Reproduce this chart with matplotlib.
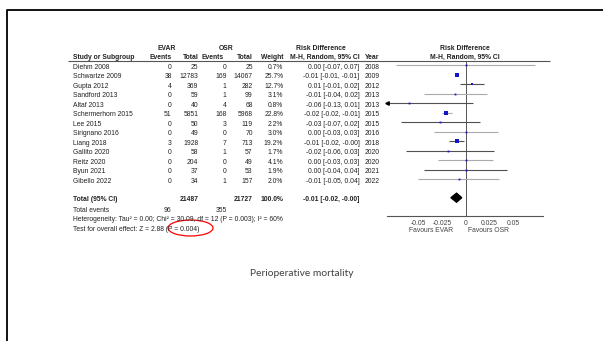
import matplotlib.pyplot as plt
from matplotlib.patches import Ellipse
import numpy as np

# Study level data: EVAR vs OSR perioperative mortality
studies = ["Diehm 2008", "Schwartze 2009", "Gupta 2012", "Sandford 2013", "Altaf 2013",
           "Schermerhorn 2015", "Lee 2015", "Sirignano 2016", "Liang 2018", "Gallito 2020",
           "Reitz 2020", "Byun 2021", "Gibello 2022"]
years = [2008, 2009, 2012, 2013, 2013, 2015, 2015, 2016, 2018, 2020, 2020, 2021, 2022]
evar_events = [0, 38, 4, 0, 0, 51, 0, 0, 3, 0, 0, 0, 0]
evar_total = [25, 12783, 369, 59, 40, 5851, 50, 49, 1928, 58, 204, 37, 34]
osr_events = [0, 169, 1, 1, 4, 168, 3, 0, 7, 1, 0, 0, 1]
osr_total = [25, 14067, 282, 99, 68, 5968, 119, 70, 713, 57, 49, 53, 157]
weights = [0.7, 25.7, 12.7, 3.1, 0.8, 22.8, 2.2, 3.0, 19.2, 1.7, 4.1, 1.9, 2.0]
rd = [0.0, -0.0095, 0.0067, -0.011, -0.060, -0.0206, -0.027, 0.0, -0.0093, -0.019, 0.0, 0.0, -0.0071]
ci_lo = [-0.074, -0.011, -0.006, -0.044, -0.131, -0.0249, -0.0685, -0.034, -0.018, -0.064, -0.029, -0.044, -0.051]
ci_hi = [0.074, -0.008, 0.0195, 0.023, 0.008, -0.0146, 0.0154, 0.034, -0.0022, 0.030, 0.029, 0.044, 0.0355]
# light grey or dark whiskers per study
whisker_dark = [False, False, True, False, True, False, True, False, True, True, False, True, False]

# Pooled estimate
total_weight = 100.0
total_rd = -0.0098
total_lo = -0.0158
total_hi = -0.0043
heterogeneity = "Heterogeneity: Tau\u00b2 = 0.00; Chi\u00b2 = 30.09, df = 12 (P = 0.003); I\u00b2 = 60%"
overall_effect = "Test for overall effect: Z = 2.88 (P = 0.004)"
x_ticks = [-0.05, -0.025, 0, 0.025, 0.05]
x_tick_labels = ["-0.05", "-0.025", "0", "0.025", "0.05"]

W, H = 603, 341
plt.rcParams['font.family'] = ['Liberation Sans', 'DejaVu Sans']
fig = plt.figure(figsize=(W / 100, H / 100), dpi=100)

# Full figure axes in pixel units for the table
ax = fig.add_axes([0, 0, 1, 1])
ax.set_xlim(0, W)
ax.set_ylim(H, 0)
ax.axis("off")

# slide border (top and left edges)
ax.plot([7, 7, W], [H, 10, 10], color="black", lw=1.3, solid_capstyle="butt")

fs = 4.9
txt = "#222222"
row0, step = 65, 9.5
rows = [row0 + step * i for i in range(len(studies))]
base = 3.6  # baseline offset from row centre


def put(x, y, s, ha="left", bold=False, color=txt):
    ax.text(x, y + base, s, ha=ha, va="baseline", fontsize=fs,
            weight="bold" if bold else "normal", color=color)


# Column headers
hdr1, hdr2 = 45.9, 55.7
put(167, hdr1, "EVAR", "center", True)
put(226, hdr1, "OSR", "center", True)
put(321, hdr1, "Risk Difference", "center", True)
put(465, hdr1, "Risk Difference", "center", True)
put(72.7, hdr2, "Study or Subgroup", "left", True)
put(171.7, hdr2, "Events", "right", True)
put(198.3, hdr2, "Total", "right", True)
put(224, hdr2, "Events", "right", True)
put(252.7, hdr2, "Total", "right", True)
put(283.3, hdr2, "Weight", "right", True)
put(359.5, hdr2, "M-H, Random, 95% CI", "right", True)
put(364.7, hdr2, "Year", "left", True)
put(465, hdr2, "M-H, Random, 95% CI", "center", True)
ax.hlines(61, 68, 550, color="#555555", lw=0.8)


def fmt_ci(est, lo, hi):
    return f"{est:.2f} [{lo:.2f}, {hi:.2f}]"


# Study rows
for i, y in enumerate(rows):
    put(72.7, y, studies[i])
    put(171.7, y, str(evar_events[i]), "right")
    put(198.3, y, str(evar_total[i]), "right")
    put(226.7, y, str(osr_events[i]), "right")
    put(252.7, y, str(osr_total[i]), "right")
    put(283.3, y, f"{weights[i]:.1f}%", "right")
    put(359.5, y, fmt_ci(rd[i], ci_lo[i], ci_hi[i]), "right")
    put(364.7, y, str(years[i]))

# Totals
yt = 197.7
put(72.7, yt, "Total (95% CI)", "left", True)
put(198.3, yt, str(sum(evar_total)), "right", True)
put(252.7, yt, str(sum(osr_total)), "right", True)
put(283.3, yt, f"{total_weight:.1f}%", "right", True)
put(359.5, yt, fmt_ci(total_rd, total_lo, total_hi), "right", True)
put(72.7, 208.2, "Total events")
put(171.7, 208.2, str(sum(evar_events)), "right")
put(226.7, 208.2, str(sum(osr_events)), "right")
put(72.7, 217.5, heterogeneity)
put(72.7, 227.0, overall_effect)

# red ring around the p-value
ax.add_patch(Ellipse((190.5, 228), 45, 16, fill=False, edgecolor="red", lw=0.9))

ax.text(301.5, 273, "Perioperative mortality", ha="center", va="center", fontsize=7.4,
        color="#404040", family=["Lato", "DejaVu Sans"])

# Forest plot panel
x0, x1, ytop, ybot = 386.7, 543, 61, 216
fp = fig.add_axes([x0 / W, (H - ybot) / H, (x1 - x0) / W, (ybot - ytop) / H])
fp.patch.set_alpha(0)
fp.set_xlim(-0.084, 0.082)
fp.set_ylim(ybot, ytop)
for s in ["top", "left", "right"]:
    fp.spines[s].set_visible(False)
fp.spines["bottom"].set_color("#555555")
fp.spines["bottom"].set_linewidth(0.8)
fp.set_yticks([])
fp.set_xticks(x_ticks)
fp.set_xticklabels(x_tick_labels)
fp.tick_params(axis="x", length=0, pad=3, labelsize=fs, labelcolor="#444444")
fp.axvline(0, color="#555555", lw=0.7)

xmin = fp.get_xlim()[0]
for i, y in enumerate(rows):
    lo = max(ci_lo[i], xmin)
    col = "#505050" if whisker_dark[i] else "#aaaaaa"
    fp.hlines(y, lo, ci_hi[i], color=col, lw=0.8)
    if ci_lo[i] < xmin:
        fp.plot(lo, y, marker="<", color="black", markersize=2.5, clip_on=False)
    ms = max(2.9 * np.sqrt(weights[i] / 25.7), 1.3)
    fp.plot(rd[i], y, marker="s", color="#1414c8", markersize=ms, markeredgewidth=0, zorder=3)

# pooled diamond
fp.fill([total_lo, total_rd, total_hi, total_rd], [yt, yt - 4.5, yt, yt + 4.5], color="black", zorder=3)

fp.text(431, 228.5 + base, "Favours EVAR", ha="center", va="baseline", fontsize=fs, color="#444444",
        transform=ax.transData)
fp.text(489, 228.5 + base, "Favours OSR", ha="center", va="baseline", fontsize=fs, color="#444444",
        transform=ax.transData)

fig.savefig("out.png", dpi=100)
